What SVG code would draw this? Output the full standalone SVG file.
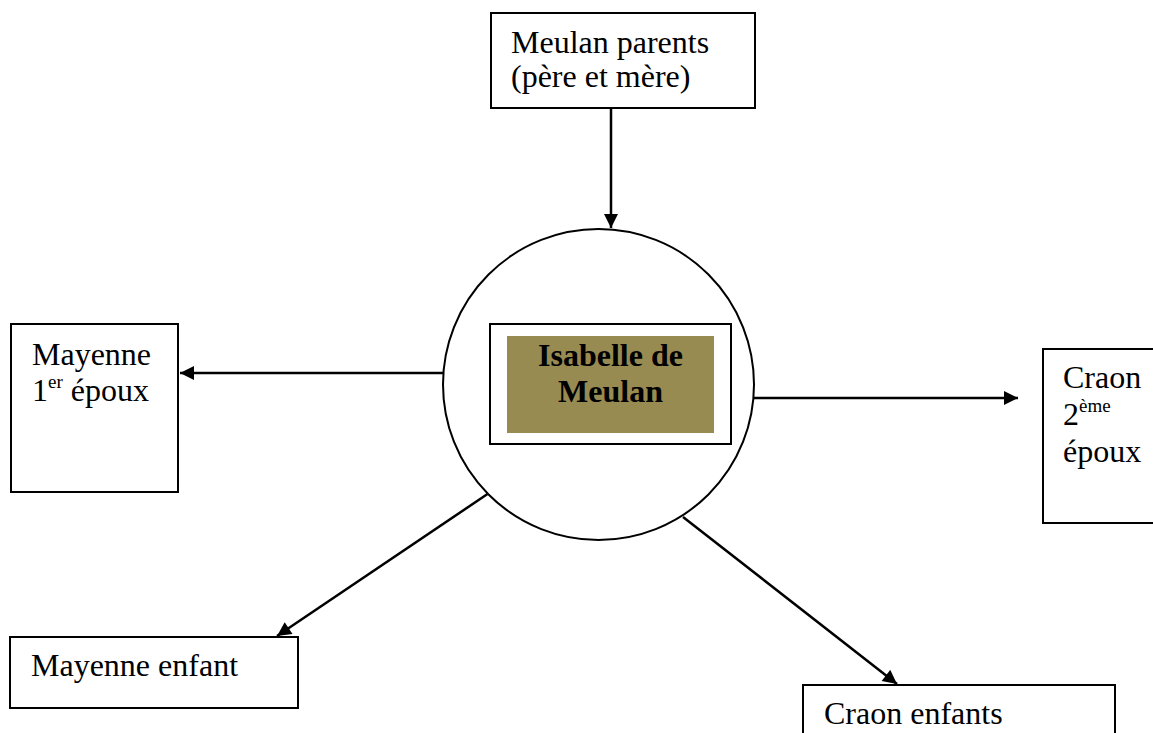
<svg xmlns="http://www.w3.org/2000/svg" width="1153" height="733" viewBox="0 0 1153 733">
<style>
.box{fill:#fff;stroke:#000;stroke-width:2}
.t{font-family:"Liberation Serif","Times New Roman",serif;font-size:32px;fill:#000}
.b{font-weight:bold}
.sup{font-size:19px}
.edge{stroke:#000;stroke-width:2.5;fill:none;marker-end:url(#arr)}
</style>
<defs>
<marker id="arr" viewBox="0 0 10 10" refX="10" refY="5" markerWidth="6" markerHeight="5.6" markerUnits="strokeWidth" orient="auto">
<path d="M0,0 L10,5 L0,10 z" fill="#000"/>
</marker>
</defs>
<rect width="1153" height="733" fill="#fff"/>
<g id="connectors">
<line class="edge" x1="611" y1="108" x2="611" y2="228"/>
<line class="edge" x1="443" y1="373" x2="180" y2="373"/>
<line class="edge" x1="754" y1="398" x2="1018" y2="398"/>
<line class="edge" x1="489" y1="493" x2="277" y2="636"/>
<line class="edge" x1="683" y1="517" x2="897" y2="684"/>
</g>
<g id="center">
<ellipse cx="598.5" cy="384.5" rx="155.5" ry="155.5" fill="#fff" stroke="#000" stroke-width="2"/>
<rect class="box" x="490" y="324" width="241" height="120"/>
<rect x="507" y="336" width="207" height="97" fill="#978b52"/>
<text class="t b" x="610.5" y="366" text-anchor="middle">Isabelle de</text>
<text class="t b" x="610.5" y="402" text-anchor="middle">Meulan</text>
</g>
<g id="parents">
<rect class="box" x="491" y="13" width="264" height="95"/>
<text class="t" x="511" y="53">Meulan parents</text>
<text class="t" x="511" y="87">(père et mère)</text>
</g>
<g id="mayenne-epoux">
<rect class="box" x="11" y="324" width="167" height="168"/>
<text class="t" x="32" y="365">Mayenne</text>
<text class="t" x="32" y="401">1<tspan class="sup" dy="-13">er</tspan><tspan dy="13"> époux</tspan></text>
</g>
<g id="craon-epoux">
<rect class="box" x="1043" y="349" width="120" height="174"/>
<text class="t" x="1063" y="388">Craon</text>
<text class="t" x="1063" y="425">2<tspan class="sup" dy="-13">ème</tspan></text>
<text class="t" x="1063" y="462">époux</text>
</g>
<g id="mayenne-enfant">
<rect class="box" x="10" y="637" width="288" height="71"/>
<text class="t" x="31" y="676">Mayenne enfant</text>
</g>
<g id="craon-enfants">
<rect class="box" x="803" y="685" width="312" height="60"/>
<text class="t" x="824" y="724">Craon enfants</text>
</g>
</svg>
